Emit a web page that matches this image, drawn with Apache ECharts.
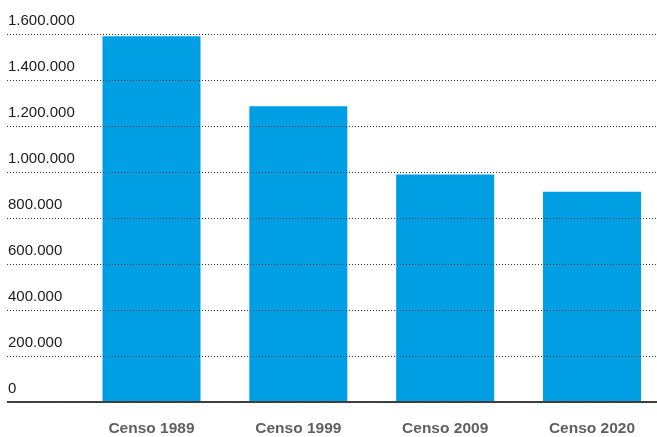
<!DOCTYPE html>
<html>
<head>
<meta charset="utf-8">
<script src="https://cdn.jsdelivr.net/npm/echarts@6/dist/echarts.min.js"></script>
<style>html,body{margin:0;padding:0;background:#fff}#c{width:657px;height:437px}</style>
</head>
<body>
<div id="c"></div>
<script>
const categories = ['Censo 1989', 'Censo 1999', 'Censo 2009', 'Censo 2020'];
const values = [1590000, 1285000, 987000, 912000];
const yMin = 0, yMax = 1600000, yInterval = 200000;

function fmt(v) { return String(v).replace(/\B(?=(\d{3})+(?!\d))/g, '.'); }

const chart = echarts.init(document.getElementById('c'), null, { renderer: 'canvas' });
chart.setOption({
  animation: false,
  backgroundColor: '#ffffff',
  grid: [
    { left: 7, right: 0, top: 34, height: 368, containLabel: false },
    { left: 151.5, right: 65, top: 34, height: 368, containLabel: false }
  ],
  xAxis: [
    { gridIndex: 0, type: 'value', min: 0, max: 1, show: false },
    {
      gridIndex: 1, type: 'category', data: categories, boundaryGap: false,
      axisLine: { show: false }, axisTick: { show: false },
      axisLabel: { margin: 20, color: '#606060', fontSize: 15.5, fontWeight: 'bold', fontFamily: 'Liberation Sans, Arial, sans-serif' }
    }
  ],
  yAxis: [
    {
      gridIndex: 0, type: 'value', min: yMin, max: yMax, interval: yInterval, z: 10,
      axisLine: { show: false }, axisTick: { show: false },
      splitLine: { show: true, lineStyle: { color: '#333333', type: [1, 2], width: 1 } },
      axisLabel: {
        inside: true, verticalAlign: 'bottom', margin: 1, padding: [0, 0, 6, 0],
        color: '#1a1a1a', fontSize: 15, fontFamily: 'Liberation Sans, Arial, sans-serif',
        formatter: fmt
      }
    },
    {
      gridIndex: 1, type: 'value', min: yMin, max: yMax, interval: yInterval, show: false
    }
  ],
  series: [
    {
      type: 'bar', xAxisIndex: 1, yAxisIndex: 1, data: values, barWidth: 98, clip: false,
      itemStyle: { color: '#009FE3' }, z: 2
    },
    {
      type: 'line', xAxisIndex: 0, yAxisIndex: 0, data: [], z: 11,
      markLine: {
        silent: true, symbol: 'none', label: { show: false },
        lineStyle: { color: '#000000', type: 'solid', width: 1.5 },
        data: [{ yAxis: 0 }]
      }
    }
  ]
});
</script>
</body>
</html>
